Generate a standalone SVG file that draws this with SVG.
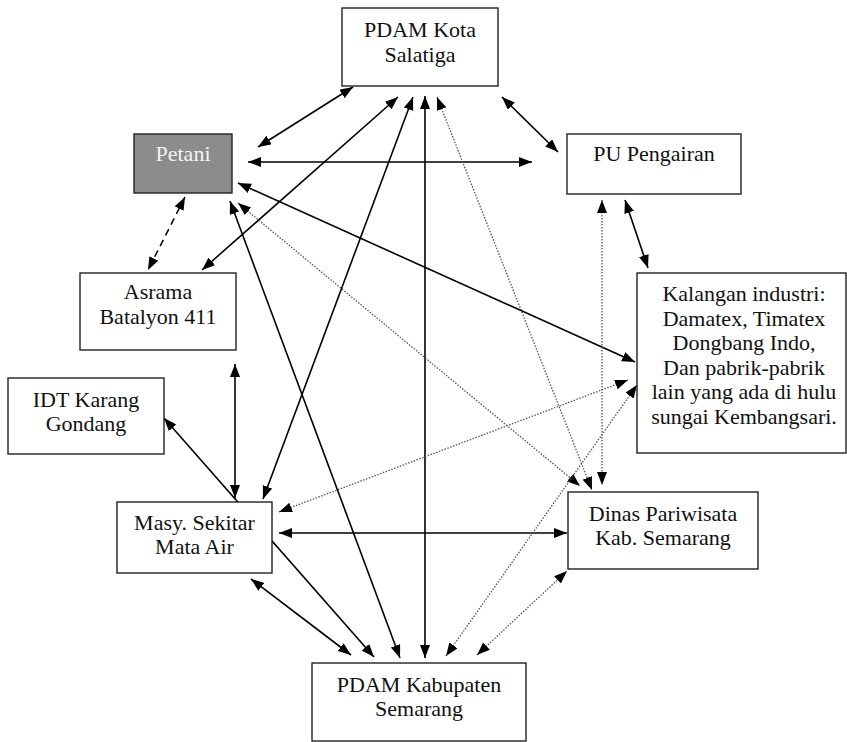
<svg xmlns="http://www.w3.org/2000/svg" width="847" height="742" viewBox="0 0 847 742">
<defs>
<marker id="ah" markerUnits="userSpaceOnUse" markerWidth="14" markerHeight="11" refX="13" refY="5" orient="auto-start-reverse">
<path d="M0,0 L13,5 L0,10 z" fill="#000"/>
</marker>
<style>
.box{fill:#fff;stroke:#222;stroke-width:1.4}
.gray{fill:#8c8c8c;stroke:#222;stroke-width:1.4}
.wt{fill:#f4f4f4}
.c{fill:none;marker-start:url(#ah);marker-end:url(#ah)}
.s{stroke:#000;stroke-width:1.6}
.d{stroke:#555;stroke-width:1.3;stroke-dasharray:1.5 1.5}
.dash{stroke:#000;stroke-width:1.5;stroke-dasharray:7 5}
</style>
</defs>
<rect width="847" height="742" fill="#fff"/>
<g id="connectors">
<line class="c s" x1="258" y1="147" x2="353" y2="87"/>
<line class="c s" x1="248" y1="162" x2="532" y2="162"/>
<line class="c s" x1="502" y1="97" x2="558" y2="152"/>
<line class="c s" x1="202" y1="270" x2="398" y2="97"/>
<line class="c s" x1="263" y1="499" x2="413" y2="97"/>
<line class="c s" x1="425" y1="96" x2="425" y2="658"/>
<line class="c d" x1="437" y1="97" x2="592" y2="490"/>
<line class="c s" x1="238" y1="183" x2="635" y2="362"/>
<line class="c s" x1="230" y1="201" x2="400" y2="658"/>
<line class="c d" x1="238" y1="203" x2="580" y2="486"/>
<line class="c dash" x1="185" y1="197" x2="148" y2="270"/>
<line class="c s" x1="235" y1="364" x2="235" y2="498"/>
<line class="c s" x1="164" y1="418" x2="374" y2="657"/>
<line class="c d" x1="279" y1="512" x2="628" y2="380"/>
<line class="c s" x1="279" y1="533" x2="567" y2="533"/>
<line class="c s" x1="251" y1="579" x2="351" y2="655"/>
<line class="c d" x1="446" y1="656" x2="637" y2="385"/>
<line class="c d" x1="477" y1="655" x2="567" y2="571"/>
<line class="c d" x1="602" y1="200" x2="602" y2="485"/>
<line class="c s" x1="625" y1="200" x2="648" y2="268"/>
</g>
<g font-family="Liberation Serif, Times New Roman, Tinos, DejaVu Serif, Noto Serif, serif" font-size="22" fill="#111" text-anchor="middle">
<g id="pdam-kota">
<rect class="box" x="342" y="8" width="156" height="78"/>
<text x="420" y="37">PDAM Kota</text>
<text x="420" y="62">Salatiga</text>
</g>
<g id="petani">
<rect class="gray" x="134" y="134" width="98" height="59"/>
<text class="wt" x="183" y="161">Petani</text>
</g>
<g id="pu-pengairan">
<rect class="box" x="567" y="134" width="174" height="60"/>
<text x="654" y="161">PU Pengairan</text>
</g>
<g id="asrama">
<rect class="box" x="80" y="273" width="156" height="77"/>
<text x="158" y="299">Asrama</text>
<text x="158" y="324">Batalyon 411</text>
</g>
<g id="kalangan-industri">
<rect class="box" x="637" y="273" width="209" height="180"/>
<text x="744" y="301">Kalangan industri:</text>
<text x="744" y="325.5">Damatex, Timatex</text>
<text x="744" y="350">Dongbang Indo,</text>
<text x="744" y="374.5">Dan pabrik-pabrik</text>
<text x="744" y="399">lain yang ada di hulu</text>
<text x="744" y="423.5">sungai Kembangsari.</text>
</g>
<g id="idt">
<rect class="box" x="8" y="378" width="156" height="76"/>
<text x="86" y="407">IDT Karang</text>
<text x="86" y="431">Gondang</text>
</g>
<g id="masy">
<rect class="box" x="117" y="502" width="155" height="71"/>
<text x="194.5" y="530">Masy. Sekitar</text>
<text x="194.5" y="554">Mata Air</text>
</g>
<g id="dinas">
<rect class="box" x="568" y="492" width="190" height="77"/>
<text x="663" y="521">Dinas Pariwisata</text>
<text x="663" y="545">Kab. Semarang</text>
</g>
<g id="pdam-kab">
<rect class="box" x="312" y="663" width="214" height="78"/>
<text x="419" y="692">PDAM Kabupaten</text>
<text x="419" y="716">Semarang</text>
</g>
</g>
</svg>
